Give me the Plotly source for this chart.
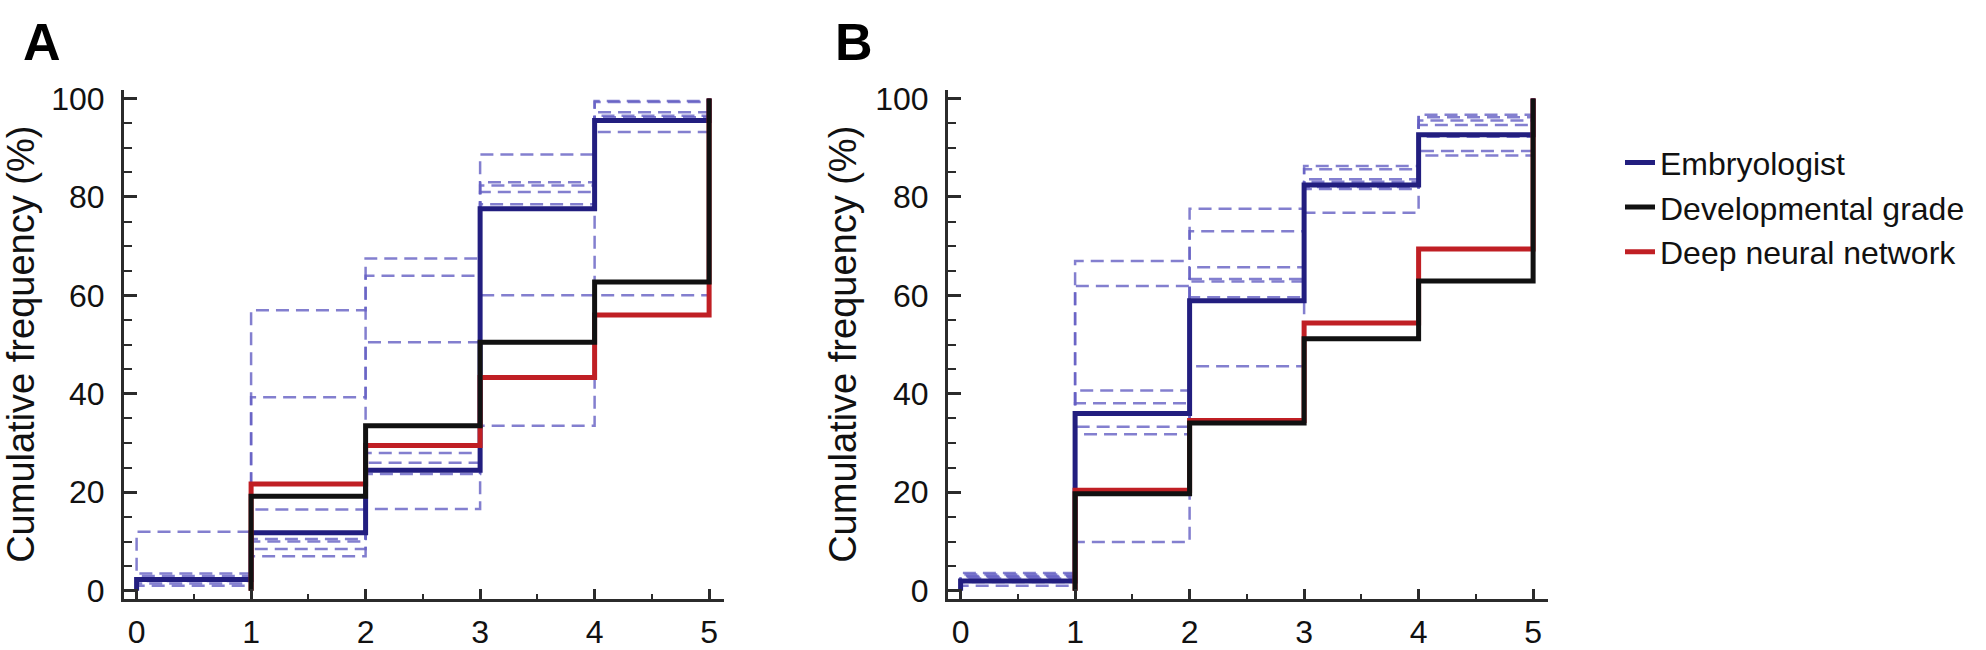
import plotly.graph_objects as go

# ---------------- data ----------------
grades = [0, 1, 2, 3, 4, 5]            # step edges (x)
y_ticks = [0, 20, 40, 60, 80, 100]
x_ticks = [0, 1, 2, 3, 4, 5]
series_names = ["Embryologist", "Developmental grade", "Deep neural network"]
final_value = 100                      # cumulative frequency reached at grade 5

# Panel A: values on intervals [0,1), [1,2), [2,3), [3,4), [4,5)
A_embryologist = [2.3, 11.8, 24.5, 77.6, 95.5]
A_dev_grade = [0, 19.2, 33.5, 50.5, 62.7]
A_dnn = [0, 21.7, 29.5, 43.3, 56.0]
A_individual_1 = [12.0, 57.0, 67.5, 88.6, 99.5]
A_individual_2 = [3.0, 39.3, 64.0, 83.0, 99.3]
A_individual_3 = [2.5, 16.5, 50.5, 60.0, 60.0]
A_individual_4 = [2.0, 10.5, 28.0, 82.3, 97.2]
A_individual_5 = [1.5, 8.5, 26.0, 81.0, 96.2]
A_individual_6 = [1.0, 7.0, 16.6, 33.5, 93.2]
A_individual_7 = [3.5, 10.0, 23.7, 78.5, 96.5]

# Panel B
B_embryologist = [2.0, 36.0, 58.9, 82.4, 92.6]
B_dev_grade = [0, 19.7, 34.1, 51.2, 62.9]
B_dnn = [0, 20.4, 34.6, 54.4, 69.4]
B_individual_1 = [3.0, 67.0, 77.6, 86.3, 96.7]
B_individual_2 = [2.5, 61.9, 73.0, 85.6, 96.2]
B_individual_3 = [3.6, 40.7, 65.7, 83.6, 95.5]
B_individual_4 = [3.3, 38.1, 63.3, 83.1, 94.6]
B_individual_5 = [2.8, 33.3, 62.8, 82.0, 92.2]
B_individual_6 = [1.0, 31.8, 59.6, 81.6, 89.3]
B_individual_7 = [1.8, 9.9, 45.6, 76.8, 88.4]

A_individuals = [A_individual_1, A_individual_2, A_individual_3, A_individual_4,
                 A_individual_5, A_individual_6, A_individual_7]
B_individuals = [B_individual_1, B_individual_2, B_individual_3, B_individual_4,
                 B_individual_5, B_individual_6, B_individual_7]

# ---------------- styles ----------------
C_BLUE = "#221e7f"
C_BLACK = "#111111"
C_RED = "#c01f24"
C_DASH = "rgba(100,95,195,0.8)"
AX = "#2b2b2b"
FONT = "Liberation Sans, Arial, Helvetica, sans-serif"


def step_xy(vals):
    """Build an hv-step path: start at 0 where the series first rises."""
    start = 0
    while start < len(vals) and vals[start] == 0:
        start += 1
    xs = [grades[start]]
    ys = [0]
    for i in range(start, len(vals)):
        xs.append(grades[i])
        ys.append(vals[i])
    xs.append(grades[-1])
    ys.append(final_value)
    return xs, ys


fig = go.Figure()

panels = [
    ("x", "y", A_embryologist, A_dev_grade, A_dnn, A_individuals, True),
    ("x2", "y2", B_embryologist, B_dev_grade, B_dnn, B_individuals, False),
]

for xa, ya, emb, dev, dnn, indiv, show in panels:
    for vals in indiv:
        xs, ys = step_xy(vals)
        fig.add_trace(go.Scatter(x=xs, y=ys, mode="lines", line_shape="hv",
                                 line=dict(color=C_DASH, width=2.5, dash="13px,7px"),
                                 xaxis=xa, yaxis=ya, showlegend=False,
                                 hoverinfo="skip"))
    for vals, col, name, rank in [(emb, C_BLUE, series_names[0], 1),
                                  (dnn, C_RED, series_names[2], 3),
                                  (dev, C_BLACK, series_names[1], 2)]:
        xs, ys = step_xy(vals)
        fig.add_trace(go.Scatter(x=xs, y=ys, mode="lines", line_shape="hv",
                                 line=dict(color=col, width=5),
                                 name=name, legendrank=rank,
                                 xaxis=xa, yaxis=ya, showlegend=show))

W, H = 1986, 650

xcommon = dict(range=[-0.11, 5.13], showline=True, linecolor=AX, linewidth=3,
               ticks="inside", ticklen=10, tickwidth=2.5, tickcolor=AX,
               tickvals=x_ticks, ticktext=[str(v) for v in x_ticks],
               minor=dict(ticks="inside", ticklen=5, tickwidth=2, tickcolor=AX, dtick=0.5),
               showgrid=False, zeroline=False,
               tickfont=dict(family=FONT, size=32, color="#111"),
               ticklabelstandoff=3, fixedrange=True)
ycommon = dict(range=[-1.66, 101.8], domain=[42.3 / H, 567 / H], showline=True,
               linecolor=AX, linewidth=3, ticks="inside", ticklen=13, tickwidth=2.5,
               tickcolor=AX, tickvals=y_ticks, ticktext=[str(v) for v in y_ticks],
               minor=dict(ticks="inside", ticklen=8, tickwidth=2, tickcolor=AX, dtick=5),
               showgrid=False, zeroline=False,
               tickfont=dict(family=FONT, size=32, color="#111"),
               ticklabelstandoff=10, fixedrange=True,
               title=dict(text="Cumulative frequency (%)",
                          font=dict(family=FONT, size=38, color="#111"), standoff=7))

fig.update_layout(
    width=W, height=H,
    margin=dict(l=0, r=0, t=0, b=0),
    paper_bgcolor="white", plot_bgcolor="white",
    xaxis=dict(xcommon, domain=[124 / W, 724 / W], anchor="y"),
    yaxis=dict(ycommon, anchor="x"),
    xaxis2=dict(xcommon, domain=[948 / W, 1548 / W], anchor="y2"),
    yaxis2=dict(ycommon, anchor="x2"),
    legend=dict(x=1620 / W, y=(H - 130) / H, xanchor="left", yanchor="top",
                font=dict(family=FONT, size=32, color="#111"),
                bgcolor="rgba(0,0,0,0)", tracegroupgap=0, itemwidth=30),
    showlegend=True,
    annotations=[
        dict(text="<b>A</b>", x=21 / W, y=(H - 34) / H, xref="paper", yref="paper",
             xanchor="left", yanchor="middle", showarrow=False,
             font=dict(family=FONT, size=52, color="#000")),
        dict(text="<b>B</b>", x=833 / W, y=(H - 34) / H, xref="paper", yref="paper",
             xanchor="left", yanchor="middle", showarrow=False,
             font=dict(family=FONT, size=52, color="#000")),
    ],
)

fig.write_html("out.html", config={"displayModeBar": False},
               post_script="document.body.style.margin='0';document.body.style.overflow='hidden';")
